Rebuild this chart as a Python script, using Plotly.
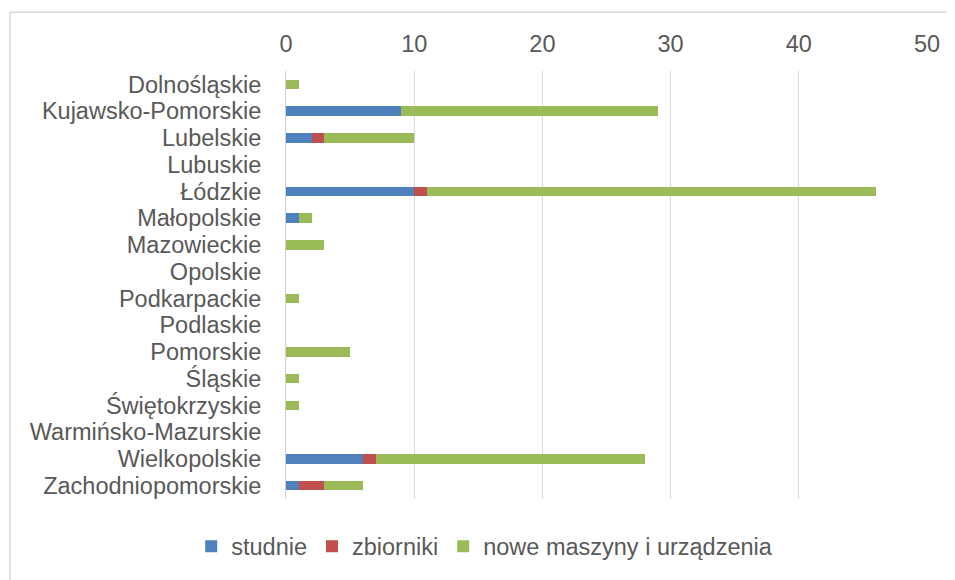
import plotly.graph_objects as go

regions = ["Dolnośląskie", "Kujawsko-Pomorskie", "Lubelskie", "Lubuskie", "Łódzkie",
           "Małopolskie", "Mazowieckie", "Opolskie", "Podkarpackie", "Podlaskie",
           "Pomorskie", "Śląskie", "Świętokrzyskie", "Warmińsko-Mazurskie",
           "Wielkopolskie", "Zachodniopomorskie"]
studnie = [0, 9, 2, 0, 10, 1, 0, 0, 0, 0, 0, 0, 0, 0, 6, 1]
zbiorniki = [0, 0, 1, 0, 1, 0, 0, 0, 0, 0, 0, 0, 0, 0, 1, 2]
maszyny = [1, 20, 7, 0, 35, 1, 3, 0, 1, 0, 5, 1, 1, 0, 21, 3]
x_ticks = [0, 10, 20, 30, 40, 50]

series = [("studnie", studnie, "#4F81BD"),
          ("zbiorniki", zbiorniki, "#C0504D"),
          ("nowe maszyny i urządzenia", maszyny, "#9BBB59")]

fig = go.Figure()
for name, vals, col in series:
    fig.add_trace(go.Bar(y=regions, x=vals, name=name, orientation="h",
                         marker=dict(color=col, line=dict(width=0)), width=0.36))

font_col = "#595959"
fs = 23.5
fig.update_layout(
    barmode="stack",
    width=947, height=572,
    margin=dict(l=278, r=28, t=63, b=78),
    paper_bgcolor="white", plot_bgcolor="white",
    font=dict(family="Liberation Sans, Arial, sans-serif", size=fs, color=font_col),
    xaxis=dict(side="top", range=[0, 50], tickvals=x_ticks, ticktext=[str(v) for v in x_ticks],
               showgrid=True, gridcolor="#d9d9d9", gridwidth=1, zeroline=False,
               showline=False, ticks="", ticklabelstandoff=13,
               tickfont=dict(size=fs, color=font_col)),
    yaxis=dict(autorange="reversed", showgrid=False, zeroline=False,
               tickmode="array", tickvals=regions, ticktext=regions,
               showline=True, linecolor="#d0d0d0", linewidth=1, ticks="",
               ticklabelstandoff=19, tickfont=dict(size=fs, color=font_col)),
    legend=dict(orientation="h", x=0.31, xanchor="center", y=-0.111, yanchor="middle",
                font=dict(size=fs, color=font_col), traceorder="normal",
                itemwidth=30),
    shapes=[dict(type="rect", xref="paper", yref="paper",
                 x0=-0.4306, x1=1.2, y0=-0.5, y1=1.137,
                 line=dict(color="#d9d9d9", width=1.5), fillcolor="rgba(0,0,0,0)",
                 layer="below")],
)

fig.write_html("out.html")
